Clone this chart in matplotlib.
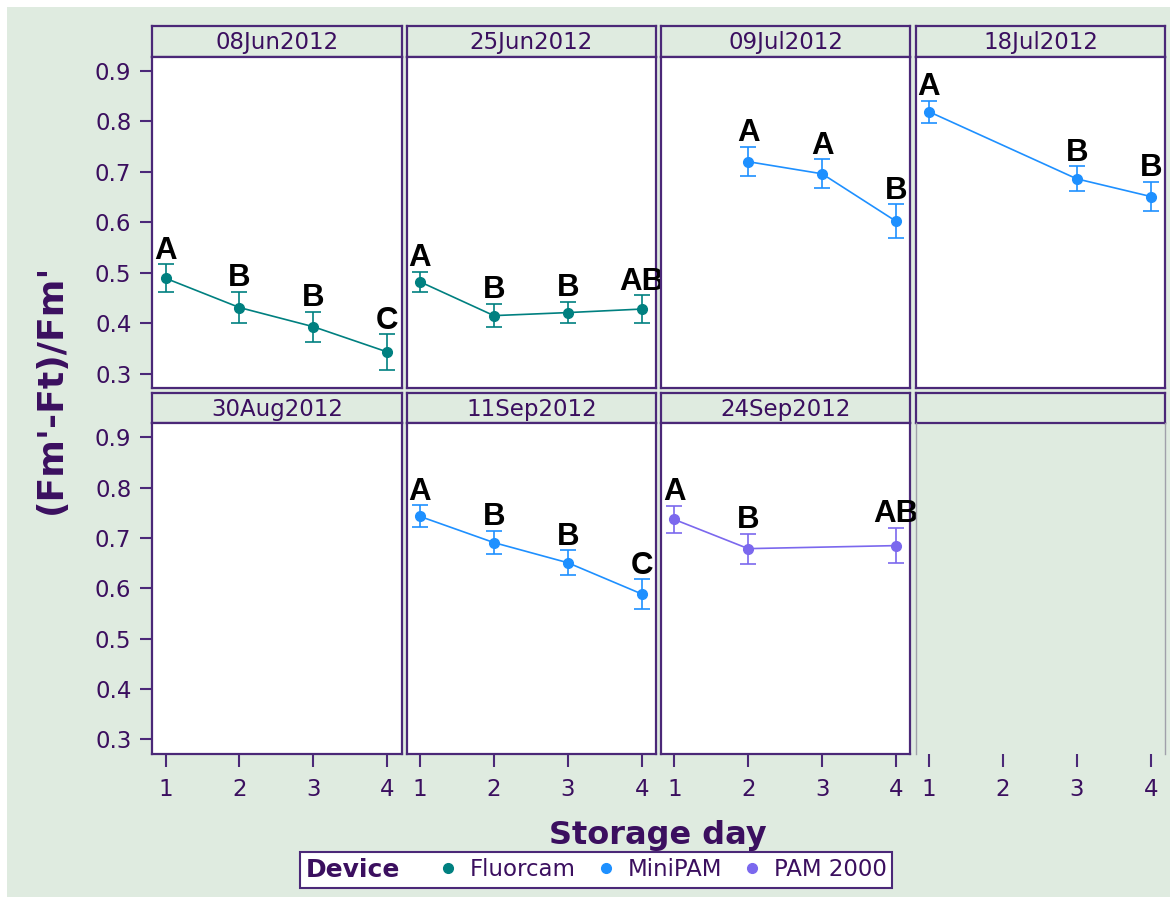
import matplotlib
matplotlib.use('Agg')
import matplotlib.pyplot as plt
from matplotlib.lines import Line2D
from matplotlib.patches import Rectangle
from matplotlib.offsetbox import HPacker

# panel data
dates = ['08Jun2012', '25Jun2012', '09Jul2012', '18Jul2012',
         '30Aug2012', '11Sep2012', '24Sep2012']
devices = ['Fluorcam', 'Fluorcam', 'MiniPAM', 'MiniPAM', None, 'MiniPAM', 'PAM 2000']
days = [[1, 2, 3, 4], [1, 2, 3, 4], [2, 3, 4], [1, 3, 4], [], [1, 2, 3, 4], [1, 2, 4]]
means = [[0.489, 0.431, 0.393, 0.343],
         [0.482, 0.415, 0.421, 0.428],
         [0.720, 0.696, 0.602],
         [0.819, 0.686, 0.651],
         [],
         [0.743, 0.691, 0.651, 0.589],
         [0.737, 0.679, 0.685]]
errs = [[0.028, 0.031, 0.030, 0.035],
        [0.020, 0.023, 0.021, 0.027],
        [0.029, 0.029, 0.034],
        [0.022, 0.025, 0.029],
        [],
        [0.022, 0.023, 0.025, 0.029],
        [0.027, 0.030, 0.035]]
letters = [['A', 'B', 'B', 'C'],
           ['A', 'B', 'B', 'AB'],
           ['A', 'A', 'B'],
           ['A', 'B', 'B'],
           [],
           ['A', 'B', 'B', 'C'],
           ['A', 'B', 'AB']]

device_names = ['Fluorcam', 'MiniPAM', 'PAM 2000']
device_colors = {'Fluorcam': '#008080', 'MiniPAM': '#1E90FF', 'PAM 2000': '#7B68EE'}

BG = '#DFEBE0'
TXT = '#3B0F5F'
FRAME = '#4B2878'

W, H = 1174, 901
fig = plt.figure(figsize=(W / 100, H / 100), dpi=100)
fig.patch.set_facecolor('white')
fig.add_artist(Rectangle((7 / W, 4 / H), 1163 / W, 890 / H, transform=fig.transFigure,
                         facecolor=BG, edgecolor='none', zorder=-10))


def px_axes(x0, top, w, h):
    return fig.add_axes([x0 / W, 1 - (top + h) / H, w / W, h / H])


col_left = [152.3, 406.7, 661.0, 915.7]
pw = 249.4
hdr_top = [26.0, 393.3]
plot_top = [56.7, 423.3]
plot_h = [331.6, 330.7]

for i in range(8):
    row, col = i // 4, i % 4
    # strip header
    hx = px_axes(col_left[col], hdr_top[row], pw, plot_top[row] - hdr_top[row])
    hx.set_facecolor(BG)
    hx.set_xticks([])
    hx.set_yticks([])
    for s in hx.spines.values():
        s.set_color(FRAME)
        s.set_linewidth(1.6)
    if i < len(dates):
        hx.text(0.5, 0.45, dates[i], ha='center', va='center', fontsize=16.5, color=TXT,
                transform=hx.transAxes)

    ax = px_axes(col_left[col], plot_top[row], pw, plot_h[row])
    ax.set_xlim(0.82, 4.195)
    ax.set_ylim(0.271, 0.928)
    ax.set_xticks([1, 2, 3, 4])
    ax.set_yticks([0.3, 0.4, 0.5, 0.6, 0.7, 0.8, 0.9])
    ax.tick_params(colors=FRAME, labelcolor=TXT, labelsize=16.5, length=9, width=1.5)
    ax.tick_params(axis='y', pad=6)
    ax.tick_params(axis='x', pad=8)
    if col != 0:
        ax.tick_params(axis='y', left=False, labelleft=False)
    if row == 0:
        ax.tick_params(axis='x', bottom=False, labelbottom=False)

    if i < len(dates):
        ax.set_facecolor('white')
        for s in ax.spines.values():
            s.set_color(FRAME)
            s.set_linewidth(1.6)
    else:
        ax.set_facecolor('none')
        ax.spines['top'].set_visible(False)
        ax.spines['bottom'].set_visible(False)
        for side in ['left', 'right']:
            ax.spines[side].set_color('#A0A0AA')
            ax.spines[side].set_linewidth(1.0)
        continue

    if not days[i]:
        continue
    c = device_colors[devices[i]]
    ax.errorbar(days[i], means[i], yerr=errs[i], fmt='-o', color=c, ms=7, lw=1.2,
                elinewidth=1.2, capsize=6, capthick=1.2)
    for d, m, e, t in zip(days[i], means[i], errs[i], letters[i]):
        ax.annotate(t, (d, m + e), xytext=(0, 4), textcoords='offset points',
                    ha='center', va='baseline', fontsize=22.5, fontweight='bold',
                    family='Liberation Sans', color='black', annotation_clip=False)

fig.text(658 / W, 1 - 844 / H, 'Storage day', ha='center', va='baseline',
         fontsize=23, fontweight='bold', color=TXT)
fig.text(51 / W, 1 - 389 / H, "(Fm'-Ft)/Fm'", ha='center', va='center', rotation=90,
         fontsize=26, fontweight='bold', color=TXT)

handles = [Line2D([], [], ls='none', marker='o', color=device_colors[d], markersize=7)
           for d in device_names]
leg = fig.legend(handles, device_names, title='Device', ncol=3, loc='center',
                 bbox_to_anchor=(596 / W, 1 - 870 / H), fontsize=16.5, labelcolor=TXT,
                 handlelength=0.5, handletextpad=0.7, columnspacing=1.05,
                 frameon=True, fancybox=False, edgecolor=FRAME, framealpha=1,
                 facecolor='white')
leg.get_frame().set_linewidth(1.5)
leg.get_title().set_fontweight('bold')
leg.get_title().set_fontsize(18)
leg.get_title().set_color(TXT)
# put the title to the left of the entries, on the same line
box = HPacker(pad=4, sep=31, align='center',
              children=[leg._legend_title_box, leg._legend_handle_box])
box.set_figure(fig)
box.set_offset(leg._findoffset)
leg._legend_box = box

fig.savefig('out.png', dpi=100)
